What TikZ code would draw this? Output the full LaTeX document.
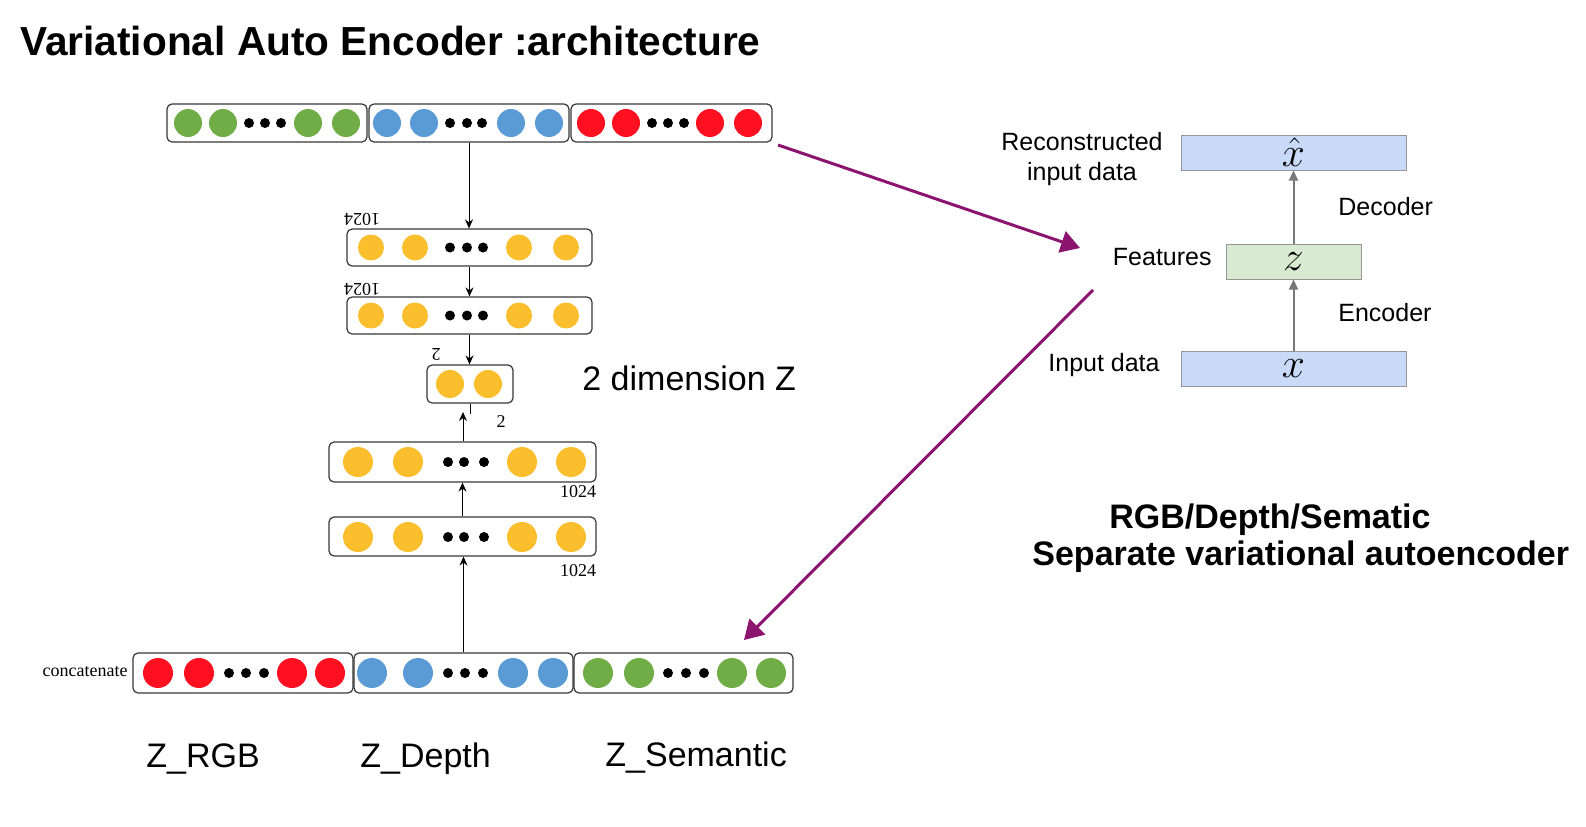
\documentclass[tikz,border=0pt]{standalone}
\usepackage{fontspec}
\setmainfont{Liberation Sans}
\newfontfamily\timesfont{Liberation Serif}
\usetikzlibrary{arrows.meta}
\definecolor{cgreen}{RGB}{112,173,71}
\definecolor{cblue}{RGB}{91,155,213}
\definecolor{cred}{RGB}{255,16,32}
\definecolor{cyellow}{RGB}{251,191,45}
\definecolor{cpurple}{RGB}{139,20,110}
\definecolor{boxblue}{RGB}{201,218,248}
\definecolor{boxgreen}{RGB}{217,234,211}
\definecolor{boxgray}{RGB}{150,150,150}
\definecolor{arrgray}{RGB}{120,120,120}
\definecolor{edgegray}{RGB}{55,55,55}
\newcommand\vlayer[7]{%
  \node[#6, minimum width={(#3-#2)*0.5pt}, minimum height={(#5-#4)*0.5pt}] (#1) at ({(#2+#3)/2},{(#4+#5)/2}) {#7};}
\newcommand\vunits[6]{%
  \foreach \cx [count=\ci] in {#5} \node[unitc, fill=#2, minimum size=#3pt] (#1c\ci) at (\cx,#4) {};
  \foreach \dx [count=\di] in {#6} \node[unitdot] (#1d\di) at (\dx,#4) {};}
\begin{document}
\begin{tikzpicture}[x=0.5pt,y=-0.5pt,
  layerbox/.style={draw=edgegray, line width=0.6pt, rounded corners=2.5pt, inner sep=0pt, fill=white},
  rbox/.style={draw=boxgray, line width=0.5pt, inner sep=0pt, font=\fontsize{20pt}{22pt}\selectfont},
  unitc/.style={circle, inner sep=0pt},
  unitdot/.style={circle, fill=black, inner sep=0pt, minimum size=5pt},
  stackarrow/.style={-{Stealth[length=4.5pt,width=4pt]}, line width=0.5pt, black},
  grayarrow/.style={-{Triangle[length=5pt,width=4.5pt]}, line width=1pt, arrgray},
  purplearrow/.style={-{Triangle[length=9.5pt,width=11pt]}, line width=1.5pt, cpurple},
  numlab/.style={font=\timesfont\fontsize{9pt}{10pt}\selectfont, inner sep=0pt},
  bigtext/.style={font=\fontsize{17pt}{20pt}\selectfont, inner sep=0pt, anchor=base west},
  smalltext/.style={font=\fontsize{12.5pt}{15pt}\selectfont, inner sep=0pt},
  boldtext/.style={font=\fontsize{17pt}{20pt}\selectfont\bfseries, inner sep=0pt, anchor=base west},
]
\useasboundingbox (0,0) rectangle (1586,826);

% title
\node[anchor=base west, inner sep=0pt, font=\fontsize{20.3pt}{24pt}\selectfont\bfseries] (title) at (20,55) {Variational Auto Encoder :architecture};

% top concatenated bar
\vlayer{G1}{167}{367}{104}{142}{layerbox}{}
\vlayer{B1}{369}{569}{104}{142}{layerbox}{}
\vlayer{R1}{571}{772}{104}{142}{layerbox}{}
\vunits{g1}{cgreen}{14}{123}{188,223,308,346}{249,265,281}
\vunits{b1}{cblue}{14}{123}{387,424,511,549}{450,467,482}
\vunits{r1}{cred}{14}{123}{591,626,710,748}{652,668,684}

% decoder layers
\vlayer{L1}{347}{592}{229}{266}{layerbox}{}
\vunits{l1}{cyellow}{13}{247.5}{371,415,519,566}{450,467,483}
\vlayer{L2}{347}{592}{297}{334}{layerbox}{}
\vunits{l2}{cyellow}{13}{315.5}{371,415,519,566}{450,467,483}
\vlayer{Z}{427}{513}{365}{403}{layerbox}{}
\vunits{z}{cyellow}{14}{384}{450,488}{}
% encoder layers
\vlayer{L3}{329}{596}{442}{482}{layerbox}{}
\vunits{l3}{cyellow}{15}{462}{358,408,522,571}{448,464,484}
\vlayer{L4}{329}{596}{517}{556}{layerbox}{}
\vunits{l4}{cyellow}{15}{537}{358,408,522,571}{448,464,484}

% bottom concatenated bar
\vlayer{R2}{133}{353}{653}{693}{layerbox}{}
\vlayer{B2}{354}{573}{653}{693}{layerbox}{}
\vlayer{G2}{574}{793}{653}{693}{layerbox}{}
\vunits{r2}{cred}{15}{673}{158,199,292,330}{229,246,264}
\vunits{b2}{cblue}{15}{673}{372,418,513,553}{448,465,483}
\vunits{g2}{cgreen}{15}{673}{598,639,732,771}{668,686,704}

% stack arrows
\draw[stackarrow] (B1.south) -- (B1.south |- L1.north);
\draw[stackarrow] (L1.south) -- (L2.north);
\draw[stackarrow] (L2.south) -- (L2.south |- Z.north);
\coordinate (zstub) at (470,414);
\draw[line width=0.5pt] (Z.south) -- (zstub);
\coordinate (ztip) at (463,412);
\draw[stackarrow] (L3.north -| ztip) -- (ztip);
\draw[stackarrow] (L4.north) -- (L4.north |- L3.south);
\draw[stackarrow] (B2.north) -- (B2.north |- L4.south);

% small labels
\node[numlab, rotate=180] (n1) at (362,219) {1024};
\node[numlab, rotate=180] (n2) at (362,289) {1024};
\node[numlab, rotate=180] (n3) at (436,354) {2};
\node[numlab] (n4) at (501,422) {2};
\node[numlab] (n5) at (578,492) {1024};
\node[numlab] (n6) at (578,571) {1024};
\node[numlab, anchor=east] (concat) at (128,672) {concatenate};

% big labels
\node[bigtext] (dimz) at (582,390) {2 dimension Z};
\node[bigtext] (zrgb) at (146,767) {Z\_RGB};
\node[bigtext] (zdepth) at (360,767) {Z\_Depth};
\node[bigtext] (zsem) at (605,766) {Z\_Semantic};

% right VAE diagram
\vlayer{XH}{1181}{1406}{135}{170}{rbox, fill=boxblue}{$\hat{x}$}
\vlayer{ZR}{1226}{1361}{244}{279}{rbox, fill=boxgreen}{$z$}
\vlayer{XR}{1181}{1406}{351}{386}{rbox, fill=boxblue}{$x$}
\draw[grayarrow] (ZR.north) -- (XH.south);
\draw[grayarrow] (XR.north) -- (ZR.south);
\node[smalltext, align=center] (recon) at (1082,159) {Reconstructed\\input data};
\node[smalltext, anchor=east] (feat) at (1212,257) {Features};
\node[smalltext, anchor=west] (dec) at (1338,207) {Decoder};
\node[smalltext, anchor=west] (enc) at (1338,313) {Encoder};
\node[smalltext, anchor=east] (inp) at (1160,365) {Input data};

\node[boldtext] (sub1) at (1109,528) {RGB/Depth/Sematic};
\node[boldtext] (sub2) at (1032,565) {Separate variational autoencoder};

% purple arrows
\coordinate (pa1) at (778,145);
\coordinate (pa2) at (1080,248);
\draw[purplearrow] (pa1) -- (pa2);
\coordinate (pb1) at (1093,290);
\coordinate (pb2) at (744,640);
\draw[purplearrow] (pb1) -- (pb2);
\end{tikzpicture}
\end{document}
